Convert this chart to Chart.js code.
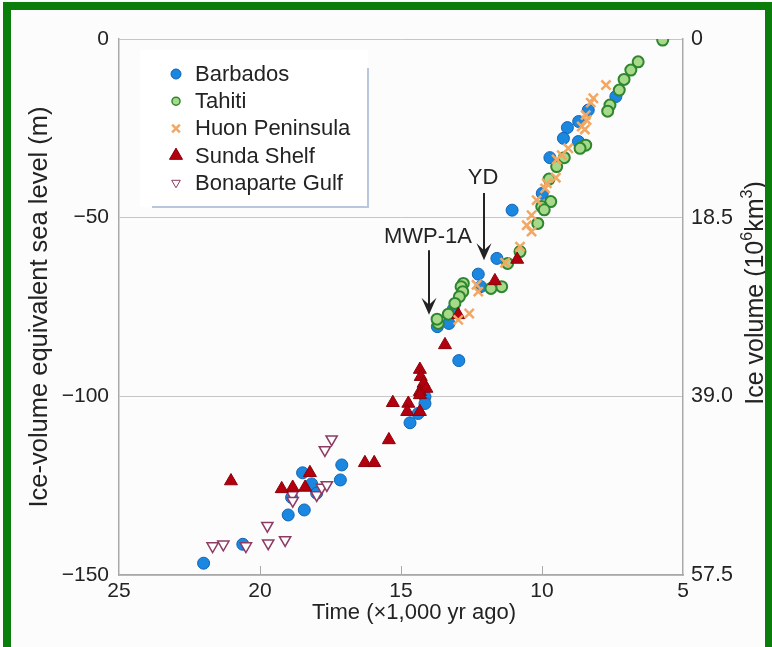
<!DOCTYPE html>
<html>
<head>
<meta charset="utf-8">
<script src="https://cdn.jsdelivr.net/npm/chart.js@4.4.0/dist/chart.umd.min.js"></script>
<style>
  html, body { margin: 0; padding: 0; background: #fff; }
  #wrap { position: relative; width: 772px; height: 647px; background: #fcfcfc; overflow: hidden; }
  #wrap canvas { position: absolute; left: 0; top: 0; }
  #frame { position: absolute; left: 3px; top: 2px; width: 754px; height: 680px;
           border: 8px solid #0b7d0b; border-bottom: none; pointer-events: none; }
</style>
</head>
<body>
<div id="wrap">
  <canvas id="chart" width="772" height="647"></canvas>
  <div id="frame"></div>
</div>
<script>
// age in thousand years ago, level in metres (ice-volume equivalent)
var barbadosAge = [7.38, 8.36, 8.7, 9.1, 9.24, 8.71, 9.72, 9.99, 11.06, 11.6, 12.26, 12.17, 13.15, 13.3, 13.71,
                   12.95, 14.15, 14.68, 14.39, 14.15, 17.1, 17.15, 18.49, 18.17, 18.88, 17.99, 18.43, 19.0, 20.61, 22.0];
var barbadosLevel = [-16.1, -19.9, -23.1, -24.8, -27.8, -28.7, -33.2, -43.2, -47.9, -61.4, -65.8, -69.3, -75.7, -79.6, -80.5,
                     -90.0, -100.1, -107.4, -104.8, -102.0, -119.2, -123.4, -121.4, -124.5, -128.3, -127.1, -131.8, -133.2, -141.4, -146.7];

var tahitiAge = [5.72, 6.59, 6.85, 7.09, 7.26, 7.59, 7.67, 8.45, 8.65, 9.21, 9.48, 9.75, 9.69, 10.01, 9.92, 10.15,
                 10.78, 11.22, 11.43, 11.81, 12.79, 12.87, 12.81, 12.93, 13.09, 13.32, 13.68, 13.72];
var tahitiLevel = [-0.3, -6.4, -8.7, -11.3, -14.3, -18.5, -20.2, -29.7, -30.6, -33.2, -35.7, -39.2, -45.5, -46.9, -47.8, -51.6,
                   -59.5, -62.8, -69.3, -69.8, -68.4, -69.3, -70.7, -72.1, -74.0, -77.0, -79.6, -78.4];

var huonAge = [7.73, 8.18, 8.27, 8.45, 8.42, 8.59, 8.48, 9.07, 9.3, 9.48, 9.51, 9.83, 9.89, 10.19, 10.37, 10.54,
               10.37, 10.78, 11.31, 12.32, 12.26, 12.58, 12.97];
var huonLevel = [-12.9, -16.6, -17.8, -21.3, -22.7, -24.5, -25.3, -30.6, -32.5, -33.7, -38.8, -40.4, -41.8, -45.1, -49.3, -52.1,
                 -53.9, -58.1, -62.6, -68.8, -70.7, -76.8, -78.6];

var sundaAge = [10.88, 11.67, 12.97, 13.44, 14.33, 14.3, 14.2, 14.1, 14.33, 14.33, 15.29, 14.74, 14.78, 14.33,
                15.43, 16.28, 15.95, 18.23, 18.4, 18.84, 19.23, 21.03];
var sundaLevel = [-61.7, -67.7, -77.2, -85.6, -92.5, -94.5, -96.4, -97.8, -98.7, -99.6, -101.8, -102.0, -104.3, -104.3,
                  -112.2, -118.6, -118.6, -121.4, -125.5, -125.5, -125.9, -123.7];

var bonaparteAge = [21.68, 21.3, 20.5, 19.74, 19.71, 19.11, 18.85, 18.84, 17.99, 17.81, 17.63, 17.7, 17.46];
var bonaparteLevel = [-141.9, -141.4, -141.9, -136.2, -141.1, -140.2, -127.6, -129.2, -127.6, -125.5, -124.8, -115.0, -112.0];

// axis ticks; right axis shows ice volume (10^6 km^3) for the same levels
var timeTicks = [25, 20, 15, 10, 5];
var levelTicks = [0, -50, -100, -150];
var iceVolumeTicks = ['0', '18.5', '39.0', '57.5'];

// labelled events: age, label level, arrow top, arrow tip
var eventNames = ['YD', 'MWP-1A'];
var eventAge = [12.06, 14.0];
var eventLabelLevel = [-38.9, -55.4];
var eventArrowTop = [-43.1, -59.1];
var eventArrowTip = [-61.9, -77.2];

var FONT = '"Liberation Sans", Arial, Helvetica, sans-serif';
var TEXT = '#232323';
var AXIS = '#a9a9a9';

function toPoints(xs, ys) {
  var pts = [];
  for (let i = 0; i < xs.length; i++) pts.push({ x: xs[i], y: ys[i] });
  return pts;
}

var datasets = [
  { label: 'Barbados', data: toPoints(barbadosAge, barbadosLevel), order: 4,
    pointStyle: 'circle', pointRadius: 6, borderWidth: 1,
    backgroundColor: '#1a88e0', borderColor: '#1362b4',
    legendRadius: 5 },
  { label: 'Tahiti', data: toPoints(tahitiAge, tahitiLevel), order: 2,
    pointStyle: 'circle', pointRadius: 5.5, borderWidth: 2,
    backgroundColor: '#a7d98b', borderColor: '#2e862e',
    legendRadius: 4 },
  { label: 'Huon Peninsula', data: toPoints(huonAge, huonLevel), order: 0,
    pointStyle: 'crossRot', pointRadius: 6.5, borderWidth: 2.5,
    backgroundColor: '#f2a762', borderColor: '#f2a762',
    legendRadius: 5.5 },
  { label: 'Sunda Shelf', data: toPoints(sundaAge, sundaLevel), order: 1,
    pointStyle: 'triangle', pointRadius: 7.5, borderWidth: 1,
    backgroundColor: '#b3000e', borderColor: '#8d000a',
    legendRadius: 7.5 },
  { label: 'Bonaparte Gulf', data: toPoints(bonaparteAge, bonaparteLevel), order: 3,
    pointStyle: 'triangle', pointRadius: 6.5, pointRotation: 180, borderWidth: 1.5,
    backgroundColor: '#ffffff', borderColor: '#8e3b63',
    legendRadius: 5 }
];

function drawArrow(ctx, x, top, tip) {
  ctx.beginPath();
  ctx.moveTo(x, top);
  ctx.lineTo(x, tip - 6);
  ctx.stroke();
  ctx.beginPath();
  ctx.moveTo(x, tip);
  ctx.lineTo(x - 7.5, tip - 17);
  ctx.lineTo(x, tip - 10);
  ctx.lineTo(x + 7.5, tip - 17);
  ctx.closePath();
  ctx.fill();
}

// rotated right-hand title with superscripts, read bottom to top
function drawIceTitle(ctx, cx, cy) {
  var parts = [['Ice volume (10', 0], ['6', 1], ['km', 0], ['3', 1], [')', 0]];
  var big = '25px ' + FONT, small = '16px ' + FONT;
  var total = 0;
  parts.forEach(function(p) { ctx.font = p[1] ? small : big; total += ctx.measureText(p[0]).width; });
  ctx.save();
  ctx.translate(cx, cy);
  ctx.rotate(-Math.PI / 2);
  ctx.textAlign = 'left';
  ctx.textBaseline = 'middle';
  ctx.fillStyle = TEXT;
  var x = -total / 2;
  parts.forEach(function(p) {
    ctx.font = p[1] ? small : big;
    ctx.fillText(p[0], x, p[1] ? -8 : 0);
    x += ctx.measureText(p[0]).width;
  });
  ctx.restore();
}

var overlay = {
  id: 'overlay',
  afterDraw(chart) {
    var ctx = chart.ctx, area = chart.chartArea;
    var xs = chart.scales.x, ys = chart.scales.y;
    ctx.save();

    // short inward ticks on the time axis
    ctx.strokeStyle = AXIS;
    ctx.lineWidth = 1;
    timeTicks.slice(1, -1).forEach(function(t) {
      var px = Math.round(xs.getPixelForValue(t)) + 0.5;
      ctx.beginPath();
      ctx.moveTo(px, area.bottom);
      ctx.lineTo(px, area.bottom - 9);
      ctx.stroke();
    });

    // event arrows
    ctx.fillStyle = TEXT;
    ctx.strokeStyle = TEXT;
    ctx.lineWidth = 2;
    ctx.font = '22px ' + FONT;
    ctx.textAlign = 'center';
    ctx.textBaseline = 'middle';
    for (let i = 0; i < eventNames.length; i++) {
      var ex = Math.round(xs.getPixelForValue(eventAge[i]));
      ctx.fillText(eventNames[i], ex - 1, ys.getPixelForValue(eventLabelLevel[i]));
      drawArrow(ctx, ex, ys.getPixelForValue(eventArrowTop[i]), ys.getPixelForValue(eventArrowTip[i]));
    }

    // time axis title
    ctx.fillText('Time (\u00d71,000 yr ago)', 414, 613);

    // legend box
    ctx.fillStyle = '#ffffff';
    ctx.fillRect(140, 50, 228, 157);
    ctx.strokeStyle = '#b9c7dc';
    ctx.lineWidth = 2;
    ctx.beginPath();
    ctx.moveTo(368, 68);
    ctx.lineTo(368, 207);
    ctx.lineTo(152, 207);
    ctx.stroke();

    ctx.textAlign = 'left';
    ctx.font = '22px ' + FONT;
    datasets.forEach(function(ds, i) {
      var ly = 74 + i * 27.2;
      ctx.fillStyle = ds.backgroundColor;
      ctx.strokeStyle = ds.borderColor;
      ctx.lineWidth = ds.pointStyle === 'crossRot' ? 2.5 : (ds.label === 'Tahiti' ? 1.5 : 1);
      Chart.helpers.drawPoint(ctx, {
        pointStyle: ds.pointStyle,
        radius: ds.legendRadius,
        rotation: ds.pointRotation || 0,
        borderWidth: ctx.lineWidth
      }, 176, ly);
      ctx.fillStyle = TEXT;
      ctx.fillText(ds.label, 195, ly + 1);
    });

    drawIceTitle(ctx, 756, 293);
    ctx.restore();
  }
};

var ctx = document.getElementById('chart').getContext('2d');
var config = {
  type: 'scatter',
  data: { datasets: datasets },
  plugins: [overlay],
  options: {
    responsive: false,
    animation: false,
    layout: { padding: { top: 39, left: 0, right: 0, bottom: 0 } },
    plugins: { legend: { display: false }, tooltip: { enabled: false } },
    scales: {
      x: {
        type: 'linear', reverse: true, min: 5, max: 25,
        afterBuildTicks: function(axis) { axis.ticks = timeTicks.map(function(v) { return { value: v }; }); },
        afterFit: function(axis) { axis.height = 72; },
        grid: { display: false },
        border: { display: true, color: AXIS, width: 1.5 },
        ticks: { color: TEXT, padding: -4, font: { family: FONT, size: 21 } },
        title: { display: false }
      },
      y: {
        type: 'linear', position: 'left', min: -150, max: 0,
        afterBuildTicks: function(axis) { axis.ticks = levelTicks.map(function(v) { return { value: v }; }); },
        afterFit: function(axis) { axis.width = 119; },
        grid: { color: '#c6c6c6', lineWidth: 1, drawTicks: false },
        border: { display: true, color: AXIS, width: 1.5 },
        ticks: { color: TEXT, padding: 10, font: { family: FONT, size: 21 },
                 callback: function(v) { return v === 0 ? '0' : '\u2212' + Math.abs(v); } },
        title: { display: true, text: 'Ice-volume equivalent sea level (m)', color: TEXT,
                 font: { family: FONT, size: 25.5 }, padding: { top: 25, bottom: 0 } }
      },
      y2: {
        type: 'linear', position: 'right', min: -150, max: 0,
        afterBuildTicks: function(axis) { axis.ticks = levelTicks.map(function(v) { return { value: v }; }); },
        afterFit: function(axis) { axis.width = 89; },
        grid: { display: false, drawTicks: false },
        border: { display: true, color: AXIS, width: 1.5 },
        ticks: { color: TEXT, padding: 8, font: { family: FONT, size: 21.5 },
                 callback: function(v) { return iceVolumeTicks[levelTicks.indexOf(v)]; } },
        title: { display: false }
      }
    }
  }
};

var myChart = new Chart(ctx, config);
</script>
</body>
</html>
